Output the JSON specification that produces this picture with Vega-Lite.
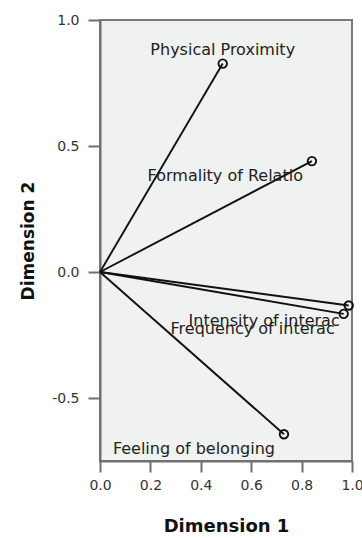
{
  "$schema": "https://vega.github.io/schema/vega-lite/v6.json",
  "autosize": "none",
  "padding": {"left": 100, "top": 20, "right": 10, "bottom": 77},
  "width": 252,
  "height": 441,
  "background": "white",
  "config": {
    "view": {"fill": "#f0f1f1", "stroke": "#7a7a7a", "strokeWidth": 2},
    "font": "DejaVu Sans"
  },
  "data": {
    "values": [
      {"variable": "Physical Proximity", "dim1": 0.487, "dim2": 0.827},
      {"variable": "Formality of Relatio", "dim1": 0.841, "dim2": 0.440},
      {"variable": "Intensity of interac", "dim1": 0.987, "dim2": -0.133},
      {"variable": "Frequency of interac", "dim1": 0.967, "dim2": -0.166},
      {"variable": "Feeling of belonging", "dim1": 0.730, "dim2": -0.644}
    ]
  },
  "encoding": {
    "x": {
      "field": "dim1", "type": "quantitative",
      "scale": {"domain": [0, 1], "nice": false, "zero": false},
      "axis": {
        "title": "Dimension 1", "values": [0, 0.2, 0.4, 0.6, 0.8, 1.0], "format": ".1f",
        "labelExpr": "replace(datum.label, '\u2212', '-')",
        "grid": false, "domainColor": "#6e6e6e", "domainWidth": 2,
        "tickColor": "#6e6e6e", "tickWidth": 2, "tickSize": 11,
        "labelFont": "DejaVu Sans", "labelFontSize": 14, "labelColor": "#333333", "labelPadding": 6,
        "labelFlush": false, "labelOverlap": false,
        "titleFont": "DejaVu Sans", "titleFontSize": 18, "titleFontWeight": "bold", "titleColor": "#111111", "titlePadding": 25
      }
    },
    "y": {
      "field": "dim2", "type": "quantitative",
      "scale": {"domain": [-0.75, 1.0], "nice": false, "zero": false},
      "axis": {
        "title": "Dimension 2", "values": [-0.5, 0, 0.5, 1.0], "format": ".1f",
        "labelExpr": "replace(datum.label, '\u2212', '-')",
        "grid": false, "domainColor": "#6e6e6e", "domainWidth": 2,
        "tickColor": "#6e6e6e", "tickWidth": 2, "tickSize": 12,
        "labelFont": "DejaVu Sans", "labelFontSize": 14, "labelColor": "#333333", "labelPadding": 9,
        "labelFlush": false, "labelOverlap": false,
        "titleFont": "DejaVu Sans", "titleFontSize": 17, "titleFontWeight": "bold", "titleColor": "#111111", "titlePadding": 14
      }
    }
  },
  "layer": [
    {
      "mark": {"type": "rule", "color": "#111111", "strokeWidth": 1.9},
      "encoding": {
        "x": {"datum": 0, "type": "quantitative"},
        "y": {"datum": 0, "type": "quantitative"},
        "x2": {"field": "dim1"},
        "y2": {"field": "dim2"}
      }
    },
    {
      "mark": {"type": "point", "shape": "circle", "filled": false, "color": "#111111", "strokeWidth": 1.9, "size": 72, "opacity": 1}
    },
    {
      "transform": [{"filter": "datum.variable === 'Physical Proximity'"}],
      "mark": {"type": "text", "align": "center", "baseline": "middle", "dy": -14, "font": "DejaVu Sans", "fontSize": 16, "color": "#222222"},
      "encoding": {"text": {"field": "variable"}}
    },
    {
      "transform": [{"filter": "datum.variable !== 'Physical Proximity'"}],
      "mark": {"type": "text", "align": "right", "baseline": "middle", "dx": -9, "dy": 15, "font": "DejaVu Sans", "fontSize": 16, "color": "#222222"},
      "encoding": {"text": {"field": "variable"}}
    }
  ]
}
